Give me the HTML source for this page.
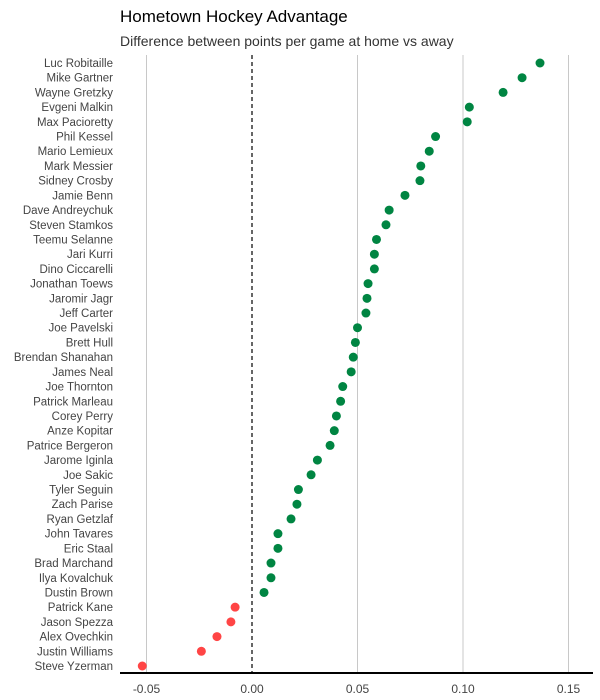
<!DOCTYPE html>
<html><head><meta charset="utf-8"><style>
body{margin:0;background:#fff;font-family:"Liberation Sans",sans-serif}
</style></head><body>
<svg id="c" width="600" height="700" style="display:block">
<text x="120" y="22" font-size="17" fill="#000">Hometown Hockey Advantage</text>
<text x="120" y="46" font-size="14" fill="#333">Difference between points per game at home vs away</text>
<g id="grid"></g><g id="marks"></g><g id="ylabels"></g><g id="xaxis"></g>
</svg>
<script>
const players=["Luc Robitaille","Mike Gartner","Wayne Gretzky","Evgeni Malkin","Max Pacioretty","Phil Kessel","Mario Lemieux","Mark Messier","Sidney Crosby","Jamie Benn","Dave Andreychuk","Steven Stamkos","Teemu Selanne","Jari Kurri","Dino Ciccarelli","Jonathan Toews","Jaromir Jagr","Jeff Carter","Joe Pavelski","Brett Hull","Brendan Shanahan","James Neal","Joe Thornton","Patrick Marleau","Corey Perry","Anze Kopitar","Patrice Bergeron","Jarome Iginla","Joe Sakic","Tyler Seguin","Zach Parise","Ryan Getzlaf","John Tavares","Eric Staal","Brad Marchand","Ilya Kovalchuk","Dustin Brown","Patrick Kane","Jason Spezza","Alex Ovechkin","Justin Williams","Steve Yzerman"];
const diffs=[0.1365,0.128,0.119,0.103,0.102,0.087,0.084,0.080,0.0796,0.0725,0.065,0.0635,0.059,0.058,0.058,0.055,0.0545,0.054,0.050,0.049,0.048,0.047,0.043,0.042,0.040,0.039,0.037,0.031,0.028,0.022,0.0213,0.0185,0.0123,0.0123,0.009,0.009,0.0057,-0.008,-0.010,-0.0166,-0.024,-0.052];
const ticks=[-0.05,0,0.05,0.10,0.15];
const tickLabels=["-0.05","0.00","0.05","0.10","0.15"];
const NS="http://www.w3.org/2000/svg";
const xs=v=>252+v*2110;
const ys=i=>63+i*(603/(players.length-1));
function mk(t,a,p){const e=document.createElementNS(NS,t);for(const k in a)e.setAttribute(k,a[k]);p.appendChild(e);return e;}
const grid=document.getElementById('grid'),marks=document.getElementById('marks'),yl=document.getElementById('ylabels'),xa=document.getElementById('xaxis');
ticks.forEach((t,i)=>{
 if(t!==0){const g=mk('line',{x1:xs(t),x2:xs(t),y1:55,y2:673,stroke:'#c8c8c8','stroke-width':1},grid);
 
 }
 const tl=mk('text',{x:xs(t),y:693,'font-size':12,fill:'#444','text-anchor':'middle'},xa);tl.textContent=tickLabels[i];
 
 
});
const z=mk('line',{x1:xs(0),x2:xs(0),y1:55,y2:673,stroke:'#000','stroke-width':1.2,'stroke-dasharray':'4,3'},grid);


const ax=mk('line',{x1:120,x2:593,y1:673,y2:673,stroke:'#000','stroke-width':2},xa);


players.forEach((p,i)=>{
 const c=mk('circle',{cx:xs(diffs[i]),cy:ys(i),r:4.5,fill:diffs[i]>=0?'#008542':'#ff4545'},marks);
 
 
 const t=mk('text',{x:113,y:ys(i)+4,'font-size':11.5,fill:'#444','text-anchor':'end'},yl);t.textContent=p;
 
 
});
</script>
</body></html>
